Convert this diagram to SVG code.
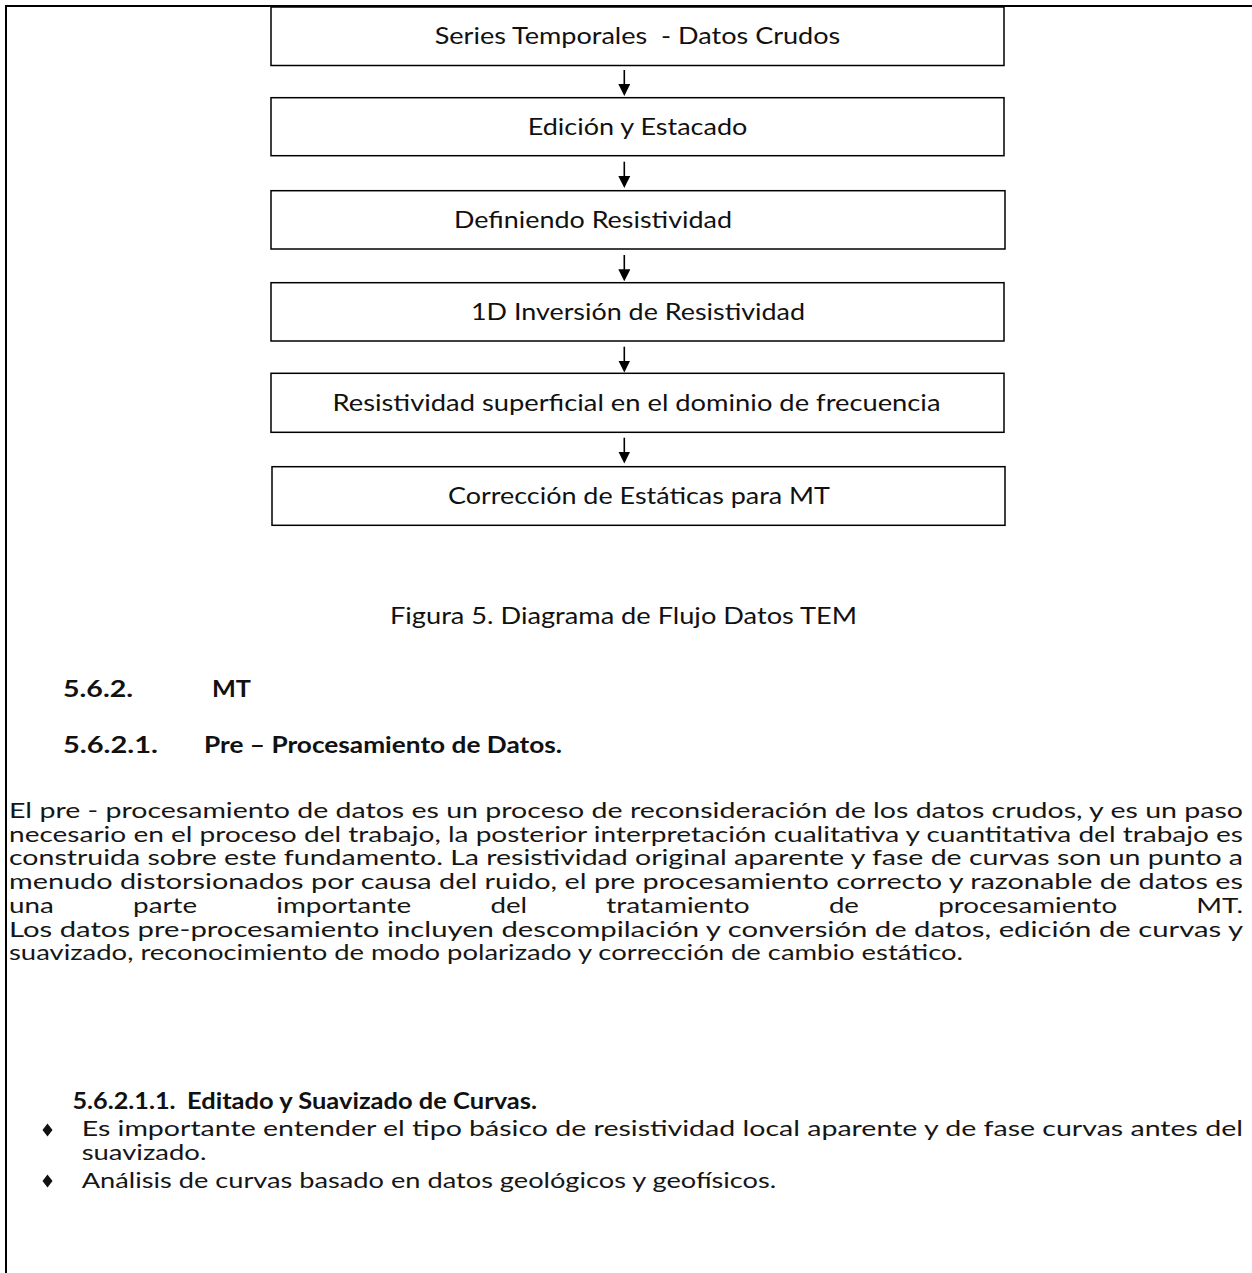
<svg xmlns="http://www.w3.org/2000/svg" width="1252" height="1273" viewBox="0 0 1252 1273">
<style>
  .box { fill: #fff; stroke: #000; stroke-width: 1.5; }
  .lbl { font-family: Lato, "Open Sans", sans-serif; font-size: 23px; fill: #111; }
  .txt { font-family: Lato, "Open Sans", sans-serif; font-size: 21px; fill: #161616; }
  .cap { font-family: Lato, "Open Sans", sans-serif; font-size: 23px; fill: #111; }
  .hd { font-family: Lato, "Open Sans", sans-serif; font-size: 22px; font-weight: bold; fill: #111; }
  .conn { stroke: #000; stroke-width: 1.6; fill: none; marker-end: url(#ah); }
  .frame { stroke: #000; stroke-width: 2; fill: none; }
  .bul { fill: #111; }
</style>
<defs>
  <marker id="ah" viewBox="0 0 12 12" markerWidth="12" markerHeight="12" refX="0.5" refY="6" orient="auto" markerUnits="userSpaceOnUse">
    <path d="M0,0 L12,6 L0,12 z" fill="#000"/>
  </marker>
</defs>
<rect width="1252" height="1273" fill="#fff"/>
<path class="frame" d="M6,1273 V6 H1252"/>

<g id="connectors">
  <line class="conn" x1="624.3" y1="70" x2="624.3" y2="84.5"/>
  <line class="conn" x1="624.3" y1="161.7" x2="624.3" y2="176.5"/>
  <line class="conn" x1="624.3" y1="255" x2="624.3" y2="269.8"/>
  <line class="conn" x1="624.3" y1="346.7" x2="624.3" y2="361"/>
  <line class="conn" x1="624.3" y1="437.7" x2="624.3" y2="452"/>
</g>

<g id="n1">
  <rect class="box" x="271" y="7" width="733" height="58.5"/>
  <text class="lbl" x="637.5" y="44.3" text-anchor="middle" xml:space="preserve" textLength="405.6" lengthAdjust="spacingAndGlyphs">Series Temporales  - Datos Crudos</text>
</g>
<g id="n2">
  <rect class="box" x="271" y="97.7" width="733" height="58"/>
  <text class="lbl" x="637.5" y="134.7" text-anchor="middle" textLength="219.7" lengthAdjust="spacingAndGlyphs">Edición y Estacado</text>
</g>
<g id="n3">
  <rect class="box" x="271" y="190.7" width="734" height="58.3"/>
  <text class="lbl" x="454" y="227.8" textLength="278" lengthAdjust="spacingAndGlyphs">Definiendo Resistividad</text>
</g>
<g id="n4">
  <rect class="box" x="271" y="282.7" width="733" height="58.3"/>
  <text class="lbl" x="638" y="319.8" text-anchor="middle" textLength="334" lengthAdjust="spacingAndGlyphs">1D Inversión de Resistividad</text>
</g>
<g id="n5">
  <rect class="box" x="271" y="373.3" width="733" height="59"/>
  <text class="lbl" x="636.5" y="410.8" text-anchor="middle" textLength="608" lengthAdjust="spacingAndGlyphs">Resistividad superficial en el dominio de frecuencia</text>
</g>
<g id="n6">
  <rect class="box" x="272" y="466.7" width="733" height="58.6"/>
  <text class="lbl" x="639" y="504" text-anchor="middle" textLength="382" lengthAdjust="spacingAndGlyphs">Corrección de Estáticas para MT</text>
</g>

<g id="caption">
  <text class="cap" x="390" y="623.5" textLength="467" lengthAdjust="spacingAndGlyphs">Figura 5. Diagrama de Flujo Datos TEM</text>
</g>

<g id="headings">
  <text class="hd" x="63" y="697" textLength="70" lengthAdjust="spacingAndGlyphs">5.6.2.</text>
  <text class="hd" x="212" y="697" textLength="39" lengthAdjust="spacingAndGlyphs">MT</text>
  <text class="hd" x="63" y="753" textLength="95" lengthAdjust="spacingAndGlyphs">5.6.2.1.</text>
  <text class="hd" x="204" y="753" textLength="358" lengthAdjust="spacingAndGlyphs">Pre – Procesamiento de Datos.</text>
</g>

<g id="paragraph">
  <text class="txt" x="9" y="818" textLength="1234" lengthAdjust="spacingAndGlyphs">El pre - procesamiento de datos es un proceso de reconsideración de los datos crudos, y es un paso</text>
  <text class="txt" x="9" y="841.7" textLength="1234" lengthAdjust="spacingAndGlyphs">necesario en el proceso del trabajo, la posterior interpretación cualitativa y cuantitativa del trabajo es</text>
  <text class="txt" x="9" y="865.4" textLength="1234" lengthAdjust="spacingAndGlyphs">construida sobre este fundamento. La resistividad original aparente y fase de curvas son un punto a</text>
  <text class="txt" x="9" y="889.1" textLength="1234" lengthAdjust="spacingAndGlyphs">menudo distorsionados por causa del ruido, el pre procesamiento correcto y razonable de datos es</text>
  <text class="txt" x="9" y="912.8" textLength="44.8" lengthAdjust="spacingAndGlyphs">una</text>
  <text class="txt" x="133.1" y="912.8" textLength="64" lengthAdjust="spacingAndGlyphs">parte</text>
  <text class="txt" x="276.3" y="912.8" textLength="134.8" lengthAdjust="spacingAndGlyphs">importante</text>
  <text class="txt" x="490.4" y="912.8" textLength="36.7" lengthAdjust="spacingAndGlyphs">del</text>
  <text class="txt" x="606.3" y="912.8" textLength="143.3" lengthAdjust="spacingAndGlyphs">tratamiento</text>
  <text class="txt" x="828.9" y="912.8" textLength="30" lengthAdjust="spacingAndGlyphs">de</text>
  <text class="txt" x="938.2" y="912.8" textLength="178.9" lengthAdjust="spacingAndGlyphs">procesamiento</text>
  <text class="txt" x="1196.3" y="912.8" textLength="46.7" lengthAdjust="spacingAndGlyphs">MT.</text>
  <text class="txt" x="9" y="936.5" textLength="1234" lengthAdjust="spacingAndGlyphs">Los datos pre-procesamiento incluyen descompilación y conversión de datos, edición de curvas y</text>
  <text class="txt" x="9" y="960.2" textLength="954" lengthAdjust="spacingAndGlyphs">suavizado, reconocimiento de modo polarizado y corrección de cambio estático.</text>
</g>

<g id="subsection">
  <text class="hd" x="72.5" y="1109" textLength="103" lengthAdjust="spacingAndGlyphs">5.6.2.1.1.</text>
  <text class="hd" x="187" y="1109" textLength="350" lengthAdjust="spacingAndGlyphs">Editado y Suavizado de Curvas.</text>
</g>

<g id="bullets">
  <polygon class="bul" points="47.5,1123.5 52.5,1130 47.5,1136.5 42.5,1130"/>
  <text class="txt" x="81.7" y="1136" textLength="1161.3" lengthAdjust="spacingAndGlyphs">Es importante entender el tipo básico de resistividad local aparente y de fase curvas antes del</text>
  <text class="txt" x="81.7" y="1159.7" textLength="124.7" lengthAdjust="spacingAndGlyphs">suavizado.</text>
  <polygon class="bul" points="47.5,1174.5 52.5,1181 47.5,1187.5 42.5,1181"/>
  <text class="txt" x="81.7" y="1187.5" textLength="694.5" lengthAdjust="spacingAndGlyphs">Análisis de curvas basado en datos geológicos y geofísicos.</text>
</g>
</svg>
